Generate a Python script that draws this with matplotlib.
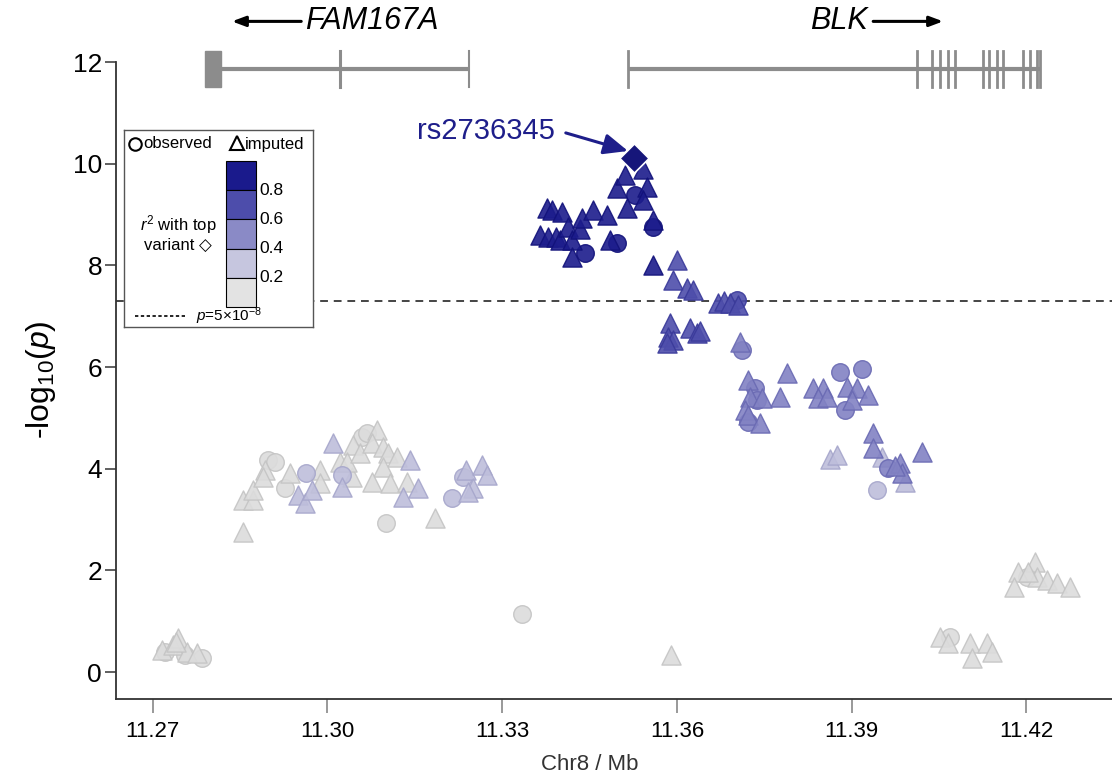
import matplotlib
matplotlib.use('Agg')
import matplotlib.pyplot as plt
from matplotlib.patches import Rectangle

plt.rcParams['font.family'] = ['Liberation Sans', 'DejaVu Sans']
plt.rcParams['mathtext.fontset'] = 'custom'
plt.rcParams['mathtext.rm'] = 'Liberation Sans'
plt.rcParams['mathtext.it'] = 'Liberation Sans:italic'
plt.rcParams['mathtext.bf'] = 'Liberation Sans:bold'

# ---------------- data (position in Mb, -log10 p) ----------------
# r2 >= 0.8
r8_tri_x = [11.3365, 11.3379, 11.3392, 11.3377, 11.3386, 11.3399, 11.3403, 11.3413, 11.3420, 11.3420,
            11.3433, 11.3437, 11.3456, 11.3480, 11.3485, 11.3497, 11.3511, 11.3515, 11.3542, 11.3549,
            11.3542, 11.3559, 11.3559]
r8_tri_y = [8.60, 8.56, 8.56, 9.12, 9.09, 8.50, 9.05, 8.75, 8.50, 8.17,
            8.72, 8.93, 9.09, 8.99, 8.50, 9.52, 9.78, 9.13, 9.90, 9.54,
            9.29, 8.89, 8.00]
r8_circ_x = [11.3442, 11.3497, 11.3528, 11.3559]
r8_circ_y = [8.24, 8.44, 9.38, 8.75]

# 0.6 <= r2 < 0.8
r6_tri_x = [11.3600, 11.3594, 11.3618, 11.3628, 11.3588, 11.3585, 11.3594, 11.3623, 11.3635, 11.3583,
            11.3640, 11.3671, 11.3680, 11.3691, 11.3705]
r6_tri_y = [8.10, 7.71, 7.55, 7.51, 6.87, 6.60, 6.53, 6.77, 6.67, 6.47,
            6.70, 7.25, 7.30, 7.25, 7.22]
r6_circ_x = [11.3703]
r6_circ_y = [7.32]

# 0.4 <= r2 < 0.6
r4_tri_x = [11.3709, 11.3722, 11.3789, 11.3777, 11.3726, 11.3746, 11.3717, 11.3722, 11.3743, 11.3834,
            11.3851, 11.3843, 11.3858, 11.3892, 11.3910, 11.3928, 11.3901, 11.3937, 11.3937, 11.4021,
            11.3983, 11.3987, 11.3975]
r4_tri_y = [6.50, 5.74, 5.88, 5.41, 5.41, 5.39, 5.15, 5.06, 4.90, 5.59,
            5.59, 5.39, 5.41, 5.61, 5.59, 5.45, 5.35, 4.70, 4.41, 4.33,
            4.11, 3.91, 4.05]
r4_circ_x = [11.3712, 11.3734, 11.3738, 11.3722, 11.3880, 11.3918, 11.3889, 11.3963]
r4_circ_y = [6.33, 5.59, 5.35, 4.92, 5.90, 5.96, 5.15, 4.01]

# 0.2 <= r2 < 0.4
r2_tri_x = [11.2950, 11.2962, 11.2974, 11.3010, 11.3025, 11.3142, 11.3130, 11.3156, 11.3238, 11.3266,
            11.3274, 11.3250, 11.3242, 11.3863, 11.3875, 11.3952, 11.3992]
r2_tri_y = [3.48, 3.32, 3.58, 4.50, 3.64, 4.17, 3.44, 3.62, 3.97, 4.07,
            3.88, 3.62, 3.54, 4.20, 4.27, 4.23, 3.74]
r2_circ_x = [11.2963, 11.3025, 11.3233, 11.3214, 11.3944]
r2_circ_y = [3.91, 3.88, 3.84, 3.42, 3.58]

# r2 < 0.2
r0_tri_x = [11.2855, 11.2855, 11.2872, 11.2872, 11.2893, 11.2889, 11.2936, 11.2987, 11.2987, 11.3022,
            11.3042, 11.3044, 11.3034, 11.3056, 11.3085, 11.3077, 11.3095, 11.3104, 11.3120, 11.3095,
            11.3077, 11.3108, 11.3137, 11.3185,
            11.2716, 11.2735, 11.2743, 11.2759, 11.2776, 11.2740, 11.3590,
            11.4052, 11.4066, 11.4104, 11.4107, 11.4133, 11.4141,
            11.4186, 11.4215, 11.4178, 11.4219, 11.4236, 11.4253, 11.4275, 11.4203]
r0_tri_y = [2.75, 3.38, 3.38, 3.58, 3.97, 3.84, 3.91, 3.97, 3.72, 4.13,
            3.84, 4.47, 4.13, 4.31, 4.76, 4.50, 4.43, 4.31, 4.23, 4.03,
            3.74, 3.72, 3.74, 3.03,
            0.43, 0.53, 0.67, 0.40, 0.37, 0.60, 0.33,
            0.69, 0.57, 0.57, 0.28, 0.57, 0.39,
            1.97, 2.16, 1.67, 1.87, 1.81, 1.75, 1.67, 1.97]
r0_circ_x = [11.2898, 11.2910, 11.2927, 11.3060, 11.3068, 11.3101, 11.3334,
             11.2721, 11.2755, 11.2785, 11.4069, 11.4201]
r0_circ_y = [4.17, 4.13, 3.62, 4.62, 4.70, 2.93, 1.14,
             0.39, 0.33, 0.27, 0.69, 1.87]

top_snp = 'rs2736345'
top_x = [11.3527]
top_y = [10.11]

# genes (Mb)
fam_start, fam_end = 11.2790, 11.3243
fam_box_end = 11.2818
fam_exons = [11.3022, 11.3243]
blk_start, blk_end = 11.3516, 11.4224
blk_exons = [11.3516, 11.4013, 11.4038, 11.4052, 11.4066, 11.4078, 11.4126, 11.4135, 11.4150,
             11.4160, 11.4195, 11.4207, 11.4219, 11.4224]

sig_line = 7.30103
xticks = [11.27, 11.30, 11.33, 11.36, 11.39, 11.42]
yticks = [0, 2, 4, 6, 8, 10, 12]
legend_ticks = ['0.8', '0.6', '0.4', '0.2']

# ---------------- styles ----------------
cols = {
    'r8': ('#1c1c8c', '#12127a'),
    'r6': ('#4e4eab', '#3a3a9a'),
    'r4': ('#8282c3', '#6a6ab3'),
    'r2': ('#bebedb', '#a6a6cb'),
    'r0': ('#dcdcdc', '#c4c4c4'),
}
bar_cols = ['#1a1a8c', '#4d4dab', '#8a8ac6', '#c6c6df', '#e3e3e3']
gene_col = '#8c8c8c'
navy = '#1e1e8a'

fig = plt.figure(figsize=(11.12, 7.76), dpi=100)
ax = fig.add_axes([116 / 1112, 77 / 776, 996 / 1112, 652 / 776])
ax.set_xlim(11.2637, 11.4347)
ax.set_ylim(-0.531, 12.296)

ax.axhline(sig_line, color='#444444', lw=1.4, ls=(0, (4, 3)), zorder=1)

s_tri, s_circ = 190, 160
groups = [
    ('r0', r0_tri_x, r0_tri_y, r0_circ_x, r0_circ_y),
    ('r2', r2_tri_x, r2_tri_y, r2_circ_x, r2_circ_y),
    ('r4', r4_tri_x, r4_tri_y, r4_circ_x, r4_circ_y),
    ('r6', r6_tri_x, r6_tri_y, r6_circ_x, r6_circ_y),
    ('r8', r8_tri_x, r8_tri_y, r8_circ_x, r8_circ_y),
]
z = 2
for key, tx, ty, cx, cy in groups:
    fc, ec = cols[key]
    ax.scatter(cx, cy, s=s_circ, marker='o', facecolor=fc, edgecolor=ec, linewidth=1.0, alpha=0.9, zorder=z)
    ax.scatter(tx, ty, s=s_tri, marker='^', facecolor=fc, edgecolor=ec, linewidth=1.0, alpha=0.9, zorder=z + 0.5)
    z += 1
ax.scatter(top_x, top_y, s=220, marker='D', facecolor='#16167a', edgecolor='white', linewidth=1.2, zorder=10)

ax.annotate(top_snp, xy=(top_x[0] - 0.0011, top_y[0] + 0.14), xytext=(11.3154, 10.64),
            fontsize=21, color=navy, va='center', ha='left',
            arrowprops=dict(arrowstyle='-|>,head_length=0.7,head_width=0.3', color=navy, lw=2.2,
                            shrinkA=6, shrinkB=0, relpos=(1.0, 0.55)))

# gene track
gy = 11.86
gh = 0.36
ax.plot([fam_start, fam_end], [gy, gy], color=gene_col, lw=3, solid_capstyle='butt', clip_on=False, zorder=3)
ax.add_patch(Rectangle((fam_start, gy - gh), fam_box_end - fam_start, 2 * gh, color=gene_col, clip_on=False, zorder=3))
for e in fam_exons:
    ax.plot([e, e], [gy - gh, gy + gh], color=gene_col, lw=2.2 if e != fam_end else 1.5, clip_on=False, zorder=3)
ax.plot([blk_start, blk_end], [gy, gy], color=gene_col, lw=3, solid_capstyle='butt', clip_on=False, zorder=3)
for e in blk_exons:
    ax.plot([e, e], [gy - gh, gy + gh], color=gene_col, lw=2.0, clip_on=False, zorder=3)

ty_lab = 12.80
ax.annotate('', xy=(11.2836, ty_lab), xytext=(11.2955, ty_lab),
            arrowprops=dict(arrowstyle='-|>,head_length=0.8,head_width=0.3', color='black', lw=2.2, shrinkA=0, shrinkB=0),
            annotation_clip=False)
ax.text(11.2962, ty_lab, 'FAM167A', style='italic', fontsize=22, va='center', ha='left', clip_on=False)
ax.annotate('', xy=(11.4057, ty_lab), xytext=(11.3937, ty_lab),
            arrowprops=dict(arrowstyle='-|>,head_length=0.8,head_width=0.3', color='black', lw=2.2, shrinkA=0, shrinkB=0),
            annotation_clip=False)
ax.text(11.3928, ty_lab, 'BLK', style='italic', fontsize=22, va='center', ha='right', clip_on=False)

# axes styling
for sp in ['top', 'right']:
    ax.spines[sp].set_visible(False)
ax.spines['left'].set_bounds(-0.531, 12)
ax.spines['left'].set_color('#333333')
ax.spines['bottom'].set_color('#333333')
ax.spines['left'].set_linewidth(1.3)
ax.spines['bottom'].set_linewidth(1.3)
ax.set_xticks(xticks)
ax.set_xticklabels([f'{t:.2f}' for t in xticks])
ax.set_yticks(yticks)
ax.tick_params(axis='y', length=8, width=1.2, color='#444444', labelsize=19, pad=2)
ax.tick_params(axis='x', length=10, width=1.2, color='#888888', labelsize=16, pad=6)
ax.set_xlabel('Chr8 / Mb', fontsize=16, color='#333333')
ax.xaxis.set_label_coords(0.476, -0.085)
ax.set_ylabel(r'-log$_{10}$($p$)', fontsize=23)
ax.yaxis.set_label_coords(-0.058, 0.49)

# legend (in pixel-like units of an inset axes)
lg = fig.add_axes([124 / 1112, (776 - 327) / 776, 189 / 1112, 197 / 776])
lg.set_xlim(0, 189)
lg.set_ylim(197, 0)
lg.set_xticks([])
lg.set_yticks([])
for sp in lg.spines.values():
    sp.set_color('#555555')
    sp.set_linewidth(1.0)
lg.plot([11], [14], marker='o', ms=9, mfc='white', mec='black', mew=1.5)
lg.text(19, 14, 'observed', fontsize=12, va='center', ha='left')
lg.plot([113], [13], marker='^', ms=10, mfc='white', mec='black', mew=1.5)
lg.text(121, 14, 'imputed', fontsize=12, va='center', ha='left')
bh = 29.2
for i, c in enumerate(bar_cols):
    lg.add_patch(Rectangle((102, 31 + i * bh), 30, bh, facecolor=c, edgecolor='black', lw=0.8))
for i, t in enumerate(legend_ticks):
    lg.text(135, 31 + (i + 1) * bh, t, fontsize=12.5, va='center', ha='left')
lg.text(54, 95, r'$r^2$ with top', fontsize=12, va='center', ha='center')
lg.text(54, 115, 'variant \u25C7', fontsize=12, va='center', ha='center')
lg.plot([11, 61], [186, 186], color='black', lw=1.2, ls=(0, (2, 1.5)))
lg.text(72, 186, r'$p$=5×10$^{-8}$', fontsize=11, va='center', ha='left')

fig.savefig('out.png', dpi=100)
